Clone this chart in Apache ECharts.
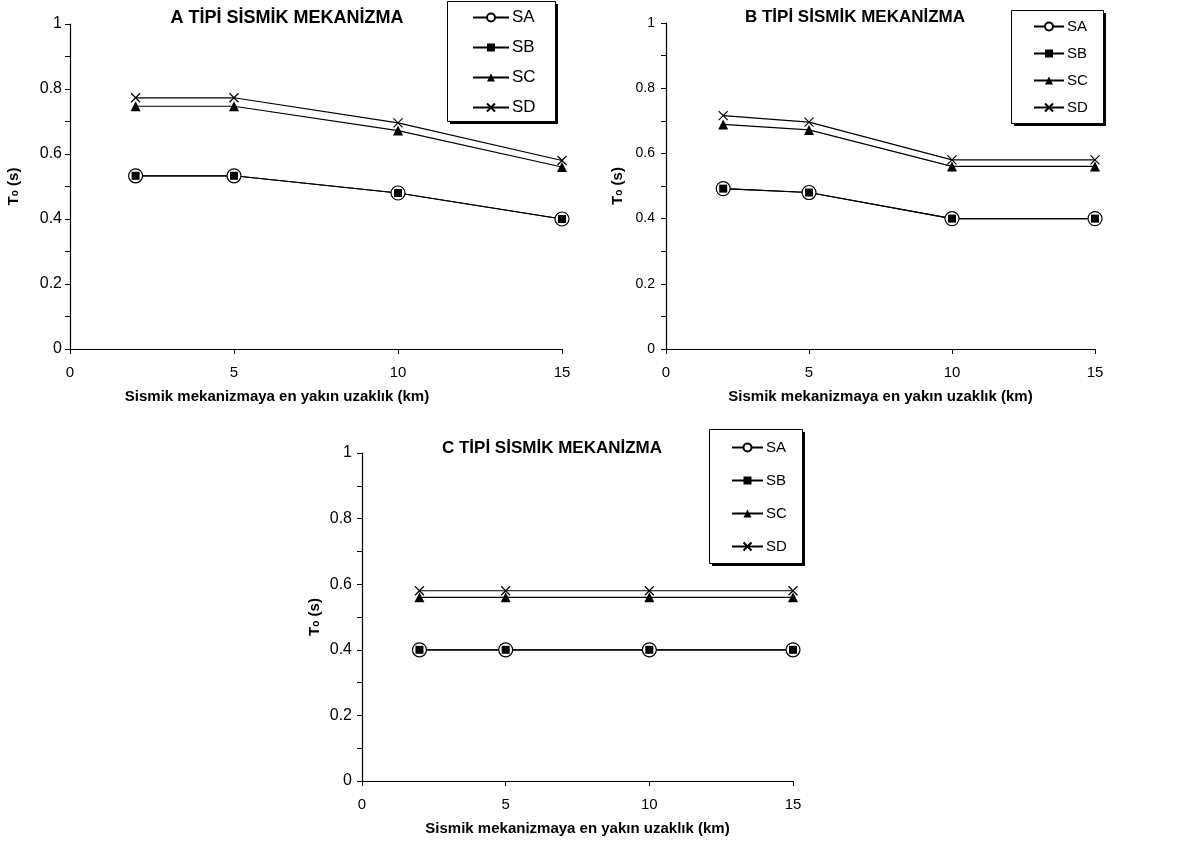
<!DOCTYPE html>
<html>
<head>
<meta charset="utf-8">
<script src="https://cdn.jsdelivr.net/npm/echarts@6/dist/echarts.min.js"></script>
<style>
  html, body { margin: 0; padding: 0; background: #fff; }
  #chart-container { width: 1194px; height: 847px; }
</style>
</head>
<body>
<div id="chart-container"></div>
<script>
// mesafeler (km)
const distances = [2, 5, 10, 15];
const seriesNames = ['SA', 'SB', 'SC', 'SD'];
const xTicks = [0, 5, 10, 15];
const yTicks = [0, 0.2, 0.4, 0.6, 0.8, 1];

// A tipi
const aSA = [0.533, 0.533, 0.48, 0.40];
const aSB = [0.533, 0.533, 0.48, 0.40];
const aSC = [0.747, 0.747, 0.672, 0.56];
const aSD = [0.773, 0.773, 0.696, 0.58];
// B tipi
const bSA = [0.492, 0.48, 0.40, 0.40];
const bSB = [0.492, 0.48, 0.40, 0.40];
const bSC = [0.689, 0.672, 0.56, 0.56];
const bSD = [0.716, 0.696, 0.58, 0.58];
// C tipi
const cSA = [0.40, 0.40, 0.40, 0.40];
const cSB = [0.40, 0.40, 0.40, 0.40];
const cSC = [0.56, 0.56, 0.56, 0.56];
const cSD = [0.58, 0.58, 0.58, 0.58];

const titles = ['A TİPİ SİSMİK MEKANİZMA', 'B TİPİ SİSMİK MEKANİZMA', 'C TİPİ SİSMİK MEKANİZMA'];
const xName = 'Sismik mekanizmaya en yakın uzaklık (km)';

const FONT = "'Liberation Sans', Arial, sans-serif";
const chart = echarts.init(document.getElementById('chart-container'));

const symbolStyles = {
    SA: { symbol: 'circle', symbolSize: 14, itemStyle: { color: '#fff', borderColor: '#000', borderWidth: 1.2 } },
    SB: { symbol: 'rect', symbolSize: 8, itemStyle: { color: '#000' } },
    SC: { symbol: 'triangle', symbolSize: 10, itemStyle: { color: '#000' } },
    SD: { symbol: 'path://M0,0L10,10M10,0L0,10', symbolSize: 9, itemStyle: { color: '#000', borderColor: '#000', borderWidth: 1.2 } }
};

const makeSeries = (idx, arrays) => seriesNames.map((name, i) => ({
    name: name,
    type: 'line',
    xAxisIndex: idx,
    yAxisIndex: idx,
    data: distances.map((d, k) => [d, arrays[i][k]]),
    symbol: symbolStyles[name].symbol,
    symbolSize: symbolStyles[name].symbolSize,
    itemStyle: symbolStyles[name].itemStyle,
    lineStyle: { color: '#000', width: 1.2 },
    animation: false
}));

// grafik yerleşimi
const grids = [
    { left: 70, top: 24, width: 492, height: 325 },
    { left: 666, top: 23, width: 429, height: 326 },
    { left: 362, top: 453, width: 431, height: 328 }
];
const titlePos = [[287, 18, 18], [855, 17, 17], [552, 448, 17]];
const tickFont = [16, 14, 16];
const yLabelMargin = [8, 11, 10];
const yNameGap = [49, 41, 40];
const xNamePad = [[0, 78, 0, 0], [0, 0, 0, 0], [0, 0, 0, 0]];
const legendPos = [
    { left: 447, top: 1, padding: [8, 21, 8, 25], itemGap: 13, itemWidth: 36, fontSize: 17 },
    { left: 1011, top: 10, padding: [9, 14, 8, 22], itemGap: 12, itemWidth: 30, fontSize: 15 },
    { left: 709, top: 429, padding: [11, 14, 10, 22], itemGap: 18, itemWidth: 31, fontSize: 15 }
];
// lejant kutuları (gölgeli çerçeve)
const legendBoxes = [
    [447, 1, 108, 120],
    [1011, 10, 92, 113],
    [709, 429, 93, 134]
];

const boxGraphics = [];
legendBoxes.forEach(b => {
    boxGraphics.push({
        type: 'rect', z: 3, silent: true,
        shape: { x: b[0] + 3, y: b[1] + 3, width: b[2], height: b[3] },
        style: { fill: '#000' }
    });
    boxGraphics.push({
        type: 'rect', z: 3, silent: true,
        shape: { x: b[0] + 0.5, y: b[1] + 0.5, width: b[2], height: b[3] },
        style: { fill: '#fff', stroke: '#000', lineWidth: 1 }
    });
});

const option = {
    backgroundColor: '#fff',
    textStyle: { fontFamily: FONT, color: '#000' },
    graphic: boxGraphics,
    title: titles.map((t, i) => ({
        text: t,
        left: titlePos[i][0],
        top: titlePos[i][1],
        textAlign: 'center',
        textVerticalAlign: 'middle',
        padding: 0,
        textStyle: { fontFamily: FONT, fontWeight: 'bold', fontSize: titlePos[i][2], color: '#000' }
    })),
    legend: legendPos.map(l => ({
        data: seriesNames,
        orient: 'vertical',
        left: l.left,
        top: l.top,
        padding: l.padding,
        itemGap: l.itemGap,
        itemWidth: l.itemWidth,
        itemHeight: 10,
        z: 5,
        selectedMode: false,
        textStyle: { fontFamily: FONT, fontSize: l.fontSize, color: '#000', padding: [0, 0, 0, -2] }
    })),
    grid: grids,
    xAxis: grids.map((g, i) => ({
        type: 'value',
        gridIndex: i,
        min: xTicks[0],
        max: xTicks[xTicks.length - 1],
        interval: 5,
        name: xName,
        nameLocation: 'middle',
        nameGap: 40,
        nameTextStyle: { fontFamily: FONT, fontWeight: 'bold', fontSize: 15, color: '#000', padding: xNamePad[i] },
        axisLine: { onZero: false, lineStyle: { color: '#000', width: 1.2 } },
        axisTick: { show: true, length: 5, lineStyle: { color: '#000' } },
        axisLabel: { margin: 16, fontSize: 15, color: '#000', fontFamily: FONT },
        splitLine: { show: false }
    })),
    yAxis: grids.map((g, i) => ({
        type: 'value',
        gridIndex: i,
        min: yTicks[0],
        max: yTicks[yTicks.length - 1],
        interval: 0.2,
        name: '{t|T}{o|o}{t| (s)}',
        nameLocation: 'middle',
        nameGap: yNameGap[i],
        nameTextStyle: {
            rich: {
                t: { fontFamily: FONT, fontWeight: 'bold', fontSize: 15, color: '#000' },
                o: { fontFamily: FONT, fontWeight: 'bold', fontSize: 10, color: '#000', padding: [4, 0, 0, 0] }
            }
        },
        axisLine: { show: true, onZero: false, lineStyle: { color: '#000', width: 1.2 } },
        axisTick: { show: true, length: 5, lineStyle: { color: '#000' } },
        minorTick: { show: true, splitNumber: 2, length: 5, lineStyle: { color: '#000' } },
        axisLabel: { margin: yLabelMargin[i], fontSize: tickFont[i], color: '#000', fontFamily: FONT },
        splitLine: { show: false },
        minorSplitLine: { show: false }
    })),
    series: [
        ...makeSeries(0, [aSA, aSB, aSC, aSD]),
        ...makeSeries(1, [bSA, bSB, bSC, bSD]),
        ...makeSeries(2, [cSA, cSB, cSC, cSD])
    ]
};

chart.setOption(option);
</script>
</body>
</html>
